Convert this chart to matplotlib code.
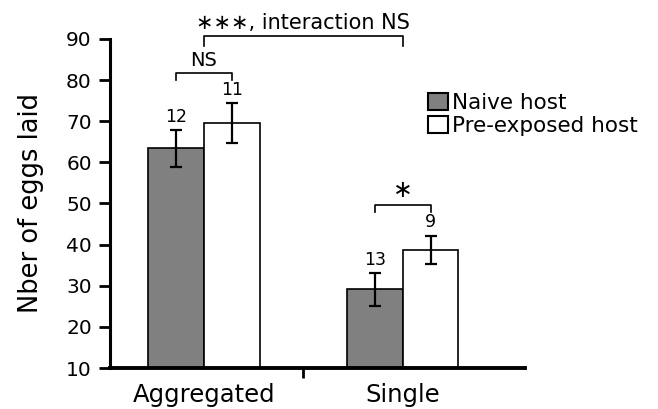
import numpy as np
import matplotlib.pyplot as plt
from matplotlib.patches import Patch

groups = ['Aggregated', 'Single']
naive = [63.4, 29.2]
naive_err = [4.5, 4.0]
preexp = [69.5, 38.8]
preexp_err = [4.8, 3.4]
n_naive = ['12', '13']
n_preexp = ['11', '9']
pair_labels = ['NS', '\u2217']

fig = plt.figure(figsize=(6.58, 4.09), dpi=100)
ax = fig.add_axes([0.167, 0.100, 0.631, 0.805])

x = np.arange(len(groups))
w = 0.28
ax.bar(x - w / 2, naive, w, color='#808080', edgecolor='black', linewidth=1.2, zorder=2)
ax.bar(x + w / 2, preexp, w, color='white', edgecolor='black', linewidth=1.2, zorder=2)
ax.errorbar(x - w / 2, naive, yerr=naive_err, fmt='none', ecolor='black', elinewidth=1.6, capsize=4.3, capthick=1.6, zorder=3)
ax.errorbar(x + w / 2, preexp, yerr=preexp_err, fmt='none', ecolor='black', elinewidth=1.6, capsize=4.3, capthick=1.6, zorder=3)

# sample sizes
for i in range(len(groups)):
    ax.text(x[i] - w / 2, naive[i] + naive_err[i] + 1.0, n_naive[i], ha='center', va='bottom', fontsize=12.5)
    ax.text(x[i] + w / 2, preexp[i] + preexp_err[i] + 1.0, n_preexp[i], ha='center', va='bottom', fontsize=12.5)

# within-group brackets
for i in range(len(groups)):
    top = max(naive[i] + naive_err[i], preexp[i] + preexp_err[i]) + 7.5
    ax.plot([x[i] - w / 2, x[i] - w / 2, x[i] + w / 2, x[i] + w / 2], [top - 1.8, top, top, top - 1.8],
            color='black', lw=1.2, clip_on=False)
    ax.text(x[i], top + 0.6, pair_labels[i], ha='center', va='bottom', fontsize=14 if i == 0 else 17)

# between-group bracket
ax.plot([x[0], x[0], x[1], x[1]], [88.2, 90.8, 90.8, 88.2], color='black', lw=1.2, clip_on=False)
ax.text((x[0] + x[1]) / 2, 91.4, '\u2217\u2217\u2217, interaction NS', ha='center', va='bottom', fontsize=15)

ax.set_xlim(-0.473, 1.615)
ax.set_ylim(10, 90)
ax.set_yticks(np.arange(10, 91, 10))
ax.set_xticks([0.5])
ax.set_xticklabels([''])
ax.set_xticks(x, minor=True)
ax.set_xticklabels(groups, minor=True, fontsize=17.5)
ax.tick_params(axis='x', which='minor', length=0, pad=10.5)
ax.tick_params(axis='x', which='major', length=7, width=2)
ax.tick_params(axis='y', length=8, width=2, labelsize=14.5, pad=5)
ax.set_ylabel('Nber of eggs laid', fontsize=18.5, labelpad=16)

for s in ['top', 'right']:
    ax.spines[s].set_visible(False)
ax.spines['left'].set_linewidth(2.2)
ax.spines['bottom'].set_linewidth(2.8)

handles = [Patch(facecolor='#808080', edgecolor='black', lw=1.5),
           Patch(facecolor='white', edgecolor='black', lw=1.5)]
ax.legend(handles, ['Naive host', 'Pre-exposed host'], loc='upper left', bbox_to_anchor=(0.766, 0.835),
          frameon=False, fontsize=15.5, handlelength=0.95, handleheight=0.8, handletextpad=0.15,
          labelspacing=0.12, borderaxespad=0, borderpad=0)

fig.savefig('out.png', dpi=100)
